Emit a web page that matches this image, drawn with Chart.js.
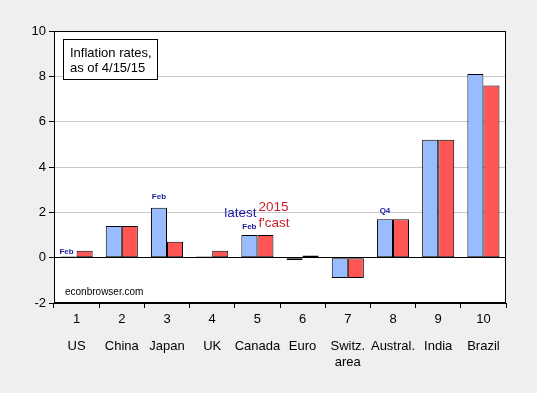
<!DOCTYPE html>
<html>
<head>
<meta charset="utf-8">
<script src="https://cdn.jsdelivr.net/npm/chart.js@4/dist/chart.umd.min.js"></script>
<style>
  html, body { margin: 0; padding: 0; background: #efefef; }
  canvas { display: block; }
</style>
</head>
<body>
<canvas id="c" width="537" height="393"></canvas>
<script>
// ---- data ----
const categoryNumbers = ['1', '2', '3', '4', '5', '6', '7', '8', '9', '10'];
const categoryNames = ['US', 'China', 'Japan', 'UK', 'Canada', 'Euro', ['Switz.', 'area'], 'Austral.', 'India', 'Brazil'];
const latestValues = [0.05, 1.4, 2.2, 0.05, 1.0, -0.1, -0.9, 1.7, 5.2, 8.1];
const forecastValues = [0.3, 1.4, 0.7, 0.3, 1.0, 0.1, -0.9, 1.7, 5.2, 7.6];
const yMin = -2, yMax = 10, yStep = 2;
const noteTexts = ['Feb', 'Feb', 'Feb', 'Q4'];
const noteCategories = [0, 2, 4, 7];
const noteValues = [0.24, 2.68, 1.35, 2.06];
const titleLines = ['Inflation rates,', 'as of 4/15/15'];
const sourceText = 'econbrowser.com';
const seriesLabels = ['latest', ['2015', "f'cast"]];

const FONT = '"Liberation Sans", Arial, sans-serif';

const decor = {
  id: 'decor',
  beforeDraw(chart) {
    const ctx = chart.ctx, ca = chart.chartArea;
    ctx.save();
    ctx.fillStyle = '#efefef';
    ctx.fillRect(0, 0, chart.width, chart.height);
    ctx.fillStyle = '#ffffff';
    ctx.fillRect(ca.left, ca.top, ca.right - ca.left, ca.bottom - ca.top);
    ctx.restore();
  },
  afterDraw(chart) {
    const ctx = chart.ctx, ca = chart.chartArea;
    const xs = chart.scales.x, ys = chart.scales.y;
    ctx.save();
    // plot frame
    ctx.strokeStyle = '#000';
    ctx.lineWidth = 1;
    ctx.strokeRect(Math.round(ca.left) + 0.5, Math.round(ca.top) + 0.5,
      Math.round(ca.right - ca.left) - 1, Math.round(ca.bottom - ca.top) - 1);

    // title box
    const bx = Math.round(ca.left) + 9, by = Math.round(ca.top) + 8;
    ctx.fillStyle = '#fff';
    ctx.fillRect(bx + 0.5, by + 0.5, 94, 40);
    ctx.strokeRect(bx + 0.5, by + 0.5, 94, 40);
    ctx.fillStyle = '#000';
    ctx.font = '13px ' + FONT;
    ctx.textBaseline = 'alphabetic';
    ctx.textAlign = 'left';
    ctx.fillText(titleLines[0], bx + 7, by + 18);
    ctx.fillText(titleLines[1], bx + 7, by + 33);

    // source
    ctx.font = '10px ' + FONT;
    ctx.fillText(sourceText, ca.left + 11, ca.bottom - 8);

    // small notes above the "latest" bars
    const meta0 = chart.getDatasetMeta(0);
    ctx.font = 'bold 8px ' + FONT;
    ctx.fillStyle = '#1a1aa0';
    ctx.textAlign = 'center';
    ctx.textBaseline = 'middle';
    noteTexts.forEach((t, k) => {
      const i = noteCategories[k];
      let x = meta0.data[i].x;
      if (i === 0) x -= 2;
      ctx.fillText(t, x, ys.getPixelForValue(noteValues[k]));
    });

    // series labels near Canada
    const cx = xs.getPixelForValue(4);
    ctx.font = '13.5px ' + FONT;
    ctx.textBaseline = 'alphabetic';
    ctx.textAlign = 'right';
    ctx.fillStyle = '#1a1aa0';
    ctx.fillText(seriesLabels[0], cx - 1, ys.getPixelForValue(1.8));
    ctx.textAlign = 'left';
    ctx.fillStyle = '#cc1f2f';
    ctx.fillText(seriesLabels[1][0], cx + 1, ys.getPixelForValue(2.06));
    ctx.fillText(seriesLabels[1][1], cx + 1, ys.getPixelForValue(1.36));
    ctx.restore();
  }
};

new Chart(document.getElementById('c'), {
  type: 'bar',
  data: {
    labels: categoryNumbers,
    datasets: [
      {
        label: 'latest',
        data: latestValues,
        backgroundColor: 'rgb(153,187,255)',
        borderColor: '#000',
        borderWidth: 1,
        borderSkipped: false,
        categoryPercentage: 0.71,
        barPercentage: 1.0
      },
      {
        label: "2015 f'cast",
        data: forecastValues,
        backgroundColor: 'rgb(255,85,85)',
        borderColor: '#000',
        borderWidth: 1,
        borderSkipped: false,
        categoryPercentage: 0.71,
        barPercentage: 1.0
      }
    ]
  },
  options: {
    responsive: false,
    animation: false,
    layout: { padding: { left: 0, top: 31, right: 31, bottom: 20 } },
    plugins: {
      legend: { display: false },
      tooltip: { enabled: false },
      title: { display: false }
    },
    scales: {
      y: {
        min: yMin,
        max: yMax,
        ticks: {
          stepSize: yStep,
          color: '#000',
          padding: 3,
          font: { family: FONT, size: 13 }
        },
        grid: {
          color: (c) => (c.tick && c.tick.value === 0) ? '#000' : '#c8c8c8',
          tickColor: '#000',
          tickLength: 5,
          lineWidth: 1
        },
        border: { color: '#000', width: 1 },
        afterFit(scale) { scale.width = 54; }
      },
      x: {
        type: 'category',
        offset: true,
        ticks: {
          color: '#000',
          padding: 4,
          maxRotation: 0,
          autoSkip: false,
          font: { family: FONT, size: 13, lineHeight: 1.2 }
        },
        grid: {
          display: true,
          drawOnChartArea: false,
          offset: true,
          tickColor: '#000',
          tickLength: 5
        },
        border: { color: '#000', width: 1 },
        afterFit(scale) { scale.height = 30; }
      },
      x2: {
        type: 'category',
        position: 'bottom',
        labels: categoryNames,
        offset: true,
        ticks: {
          color: '#000',
          padding: 4.5,
          maxRotation: 0,
          autoSkip: false,
          font: { family: FONT, size: 13, lineHeight: 1.3 }
        },
        grid: { display: false, drawTicks: false },
        border: { display: false },
        afterFit(scale) { scale.height = 40; }
      }
    }
  },
  plugins: [decor]
});
</script>
</body>
</html>
